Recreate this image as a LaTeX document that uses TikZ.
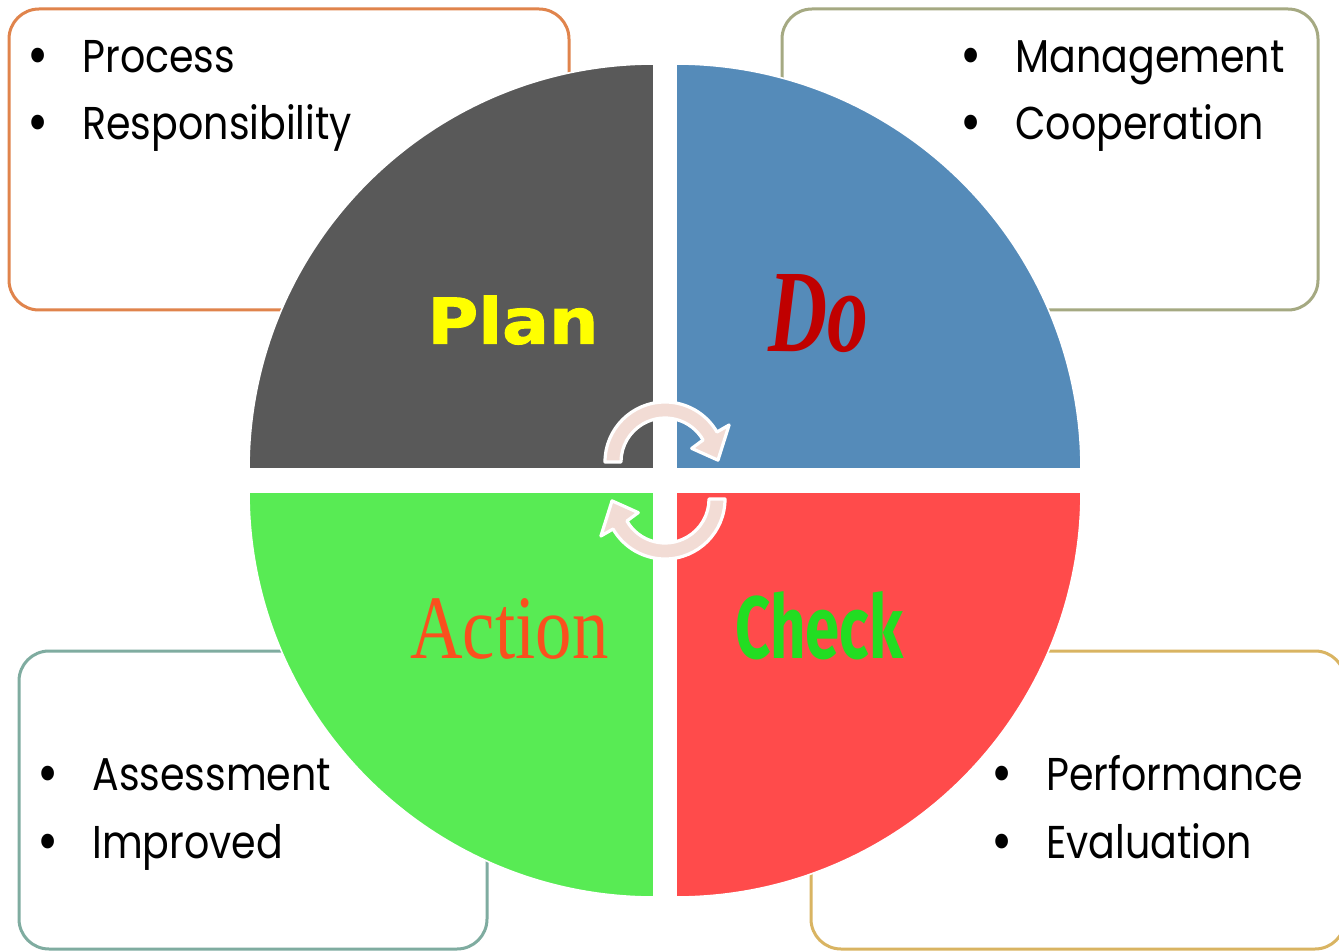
\documentclass[tikz,border=0pt]{standalone}
\usepackage{fontspec}
\usepackage{graphicx}
\setmainfont{Poppins}
\newfontfamily\bodyfont{Poppins}[FakeStretch=0.86]
\newfontfamily\planfont{DejaVu Sans}[BoldFeatures={FakeBold=1.5}]
\newfontfamily\dofont{Liberation Serif}
\newfontfamily\actfont{Liberation Serif}
\newfontfamily\checkfont{Fira Sans}
\newcommand{\bul}{\llap{\raisebox{-1.5pt}{\scalebox{1.3}{•}}\hspace{17pt}}}
\definecolor{qgray}{RGB}{89,89,89}
\definecolor{qblue}{RGB}{85,139,185}
\definecolor{qgreen}{RGB}{88,235,84}
\definecolor{qred}{RGB}{255,75,75}
\definecolor{borange}{RGB}{224,132,76}
\definecolor{bolive}{RGB}{165,169,130}
\definecolor{bteal}{RGB}{127,172,160}
\definecolor{bgold}{RGB}{217,180,98}
\definecolor{arrowpink}{RGB}{242,220,213}
\definecolor{doRed}{RGB}{192,0,0}
\definecolor{actOrange}{RGB}{250,80,30}
\definecolor{checkGreen}{RGB}{34,221,34}
\definecolor{planYellow}{RGB}{255,255,0}
\begin{document}
\begin{tikzpicture}[x=0.5pt,y=-0.5pt,
  infobox/.style={line width=1.5pt, rounded corners=15pt, fill=white},
  quarter/.style={draw=white, line width=0.8pt},
  item/.style={anchor=base west, inner sep=0pt, font=\bodyfont\fontsize{23}{28}\selectfont},
  label/.style={anchor=south west, inner sep=0pt},
  cyclearrow/.style={fill=arrowpink, draw=white, line width=1.6pt, line join=round}]
\useasboundingbox (0,0) rectangle (1339,952);
\fill[white] (0,0) rectangle (1339,952);
% boxes
\draw[infobox, draw=borange] (9,9) rectangle (569,310);
\draw[infobox, draw=bolive] (782,9) rectangle (1318,310);
\draw[infobox, draw=bteal] (19,651) rectangle (487,949);
\draw[infobox, draw=bgold] (811,651) rectangle (1345,949);
% quarters
\filldraw[quarter, fill=qgray] (654,469) -- (249,469) arc[start angle=180, end angle=270, radius=405] -- cycle;
\filldraw[quarter, fill=qblue] (676,469) -- (676,64) arc[start angle=270, end angle=360, radius=405] -- cycle;
\filldraw[quarter, fill=qred] (676,492) -- (1081,492) arc[start angle=0, end angle=90, radius=405] -- cycle;
\filldraw[quarter, fill=qgreen] (654,492) -- (654,897) arc[start angle=90, end angle=180, radius=405] -- cycle;
% bullet items
\node[item] (tl1) at (82,73) {\bul Process};
\node[item] (tl2) at (82,140) {\bul Responsibility};
\node[item] (tr1) at (1015,73) {\bul Management};
\node[item] (tr2) at (1015,140) {\bul Cooperation};
\node[item] (bl1) at (92,790) {\bul Assessment};
\node[item] (bl2) at (92,858) {\bul Improved};
\node[item] (br1) at (1046,790) {\bul Performance};
\node[item] (br2) at (1046,858) {\bul Evaluation};
% labels
\node[label] (plan) at (427,345) {\resizebox{85.5pt}{24pt}{\color{planYellow}\planfont\bfseries Plan}};
\node[label] (do) at (768,353) {\resizebox{50pt}{38.5pt}{\color{doRed}\dofont\bfseries\itshape Do}};
\node[label] (action) at (410,660) {\resizebox{99pt}{30pt}{\color{actOrange}\actfont Action}};
\node[label] (check) at (735,660) {\resizebox{84pt}{33.5pt}{\color{checkGreen}\checkfont\bfseries Check}};
% cycle arrows
\begin{scope}[shift={(665,462)}]
\draw[cyclearrow] (180:60) arc[start angle=180, end angle=330, radius=60] -- (330:74) -- (358:53) -- (333:30) -- (330:44) arc[start angle=330, end angle=180, radius=44] -- cycle;
\end{scope}
\begin{scope}[shift={(665,499)}, rotate=180]
\draw[cyclearrow] (180:60) arc[start angle=180, end angle=330, radius=60] -- (330:74) -- (358:53) -- (333:30) -- (330:44) arc[start angle=330, end angle=180, radius=44] -- cycle;
\end{scope}
\end{tikzpicture}
\end{document}
